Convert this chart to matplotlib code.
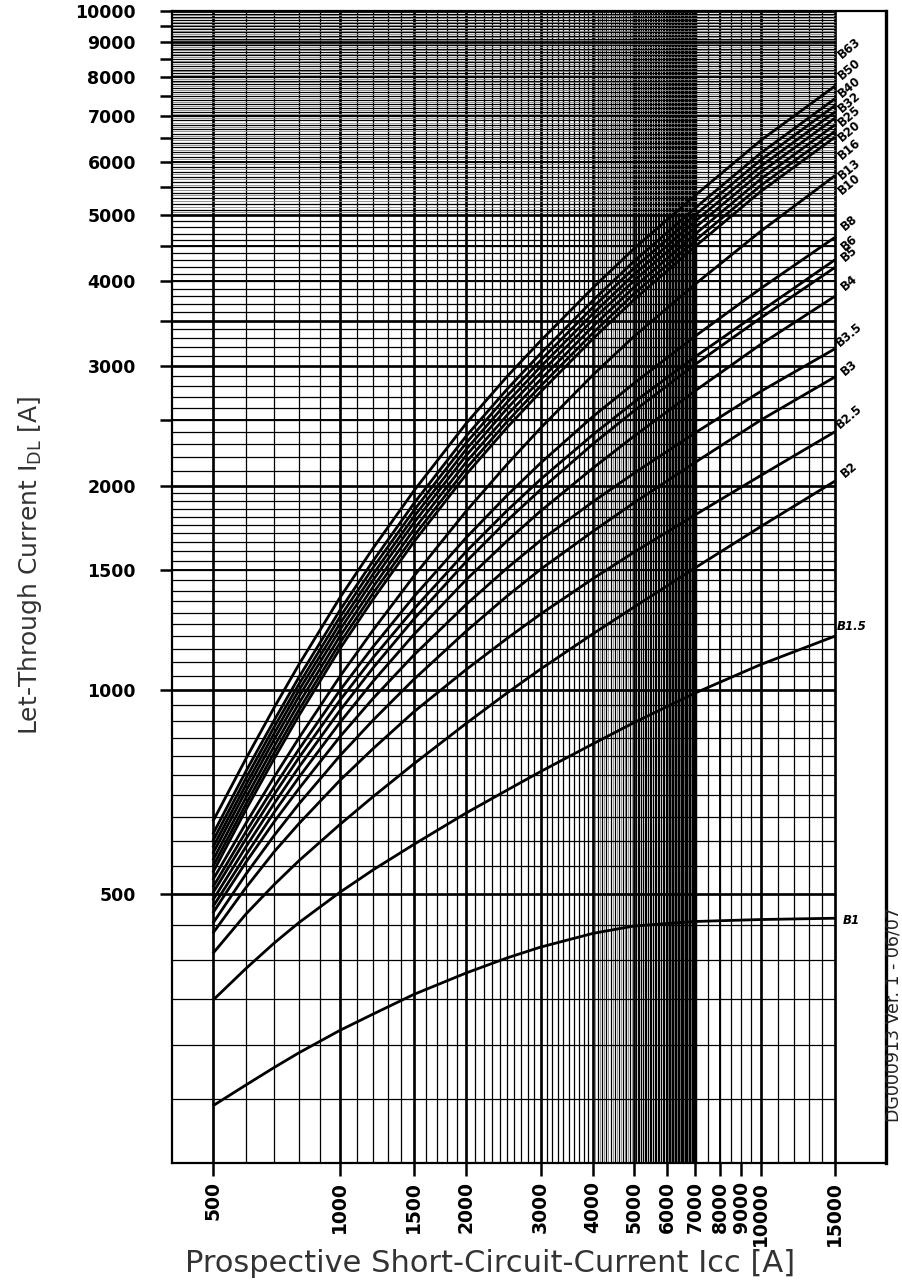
"""Let-through current vs prospective short-circuit current, B curves."""
import matplotlib
matplotlib.use("Agg")
import matplotlib.pyplot as plt
from matplotlib.ticker import FixedLocator, FixedFormatter, NullLocator

# prospective short-circuit current Icc [A] where values were read
ICC = [500, 600, 700, 800, 1000, 1200, 1500, 2000, 2500, 3000, 4000, 5000,
       7000, 10000, 15000]

# let-through current I_DL [A] per rating
B1 = [244, 262, 278, 292, 315, 333, 356, 383, 403, 418, 438, 449, 456, 459,
      461]
B1_5 = [349, 389, 424, 454, 503, 543, 592, 659, 712, 758, 833, 895, 990,
        1090, 1200]
B2 = [409, 468, 517, 560, 633, 696, 778, 893, 990, 1073, 1210, 1324, 1514,
      1740, 2030]
B2_5 = [438, 512, 578, 635, 735, 819, 928, 1072, 1191, 1293, 1459, 1595,
        1812, 2069, 2400]
B3 = [453, 536, 611, 679, 799, 902, 1036, 1221, 1375, 1505, 1713, 1886,
      2165, 2497, 2890]
B3_5 = [469, 558, 640, 715, 852, 971, 1125, 1337, 1512, 1660, 1894, 2085,
        2393, 2752, 3180]
B4 = [479, 572, 661, 743, 894, 1029, 1206, 1454, 1658, 1834, 2123, 2364,
      2760, 3228, 3800]
B5 = [490, 588, 681, 769, 931, 1077, 1271, 1546, 1776, 1972, 2304, 2576,
      3018, 3531, 4190]
B6 = [502, 604, 702, 794, 964, 1115, 1315, 1600, 1838, 2042, 2378, 2653,
      3097, 3612, 4300]
B8 = [512, 619, 721, 817, 997, 1157, 1371, 1677, 1935, 2158, 2529, 2828,
      3322, 3902, 4640]
B10 = [525, 637, 745, 849, 1045, 1224, 1470, 1835, 2150, 2430, 2912, 3316,
       3963, 4737, 5720]
B13 = [538, 667, 793, 916, 1148, 1359, 1651, 2078, 2436, 2747, 3292, 3756,
       4504, 5422, 6518]
B16 = [549, 680, 809, 934, 1171, 1387, 1684, 2120, 2485, 2802, 3358, 3832,
       4595, 5532, 6650]
B20 = [561, 695, 827, 955, 1197, 1417, 1722, 2167, 2540, 2864, 3433, 3917,
       4696, 5654, 6797]
B25 = [574, 711, 846, 977, 1224, 1450, 1761, 2216, 2598, 2930, 3511, 4006,
       4803, 5783, 6952]
B32 = [586, 726, 864, 998, 1250, 1480, 1798, 2263, 2653, 2992, 3585, 4091,
       4905, 5905, 7099]
B40 = [599, 742, 883, 1019, 1278, 1513, 1837, 2313, 2711, 3057, 3664, 4180,
       5012, 6034, 7254]
B50 = [613, 760, 903, 1043, 1308, 1548, 1881, 2367, 2774, 3129, 3750, 4278,
       5130, 6176, 7425]
B63 = [640, 793, 943, 1089, 1365, 1616, 1963, 2471, 2896, 3266, 3914, 4466,
       5355, 6447, 7750]

CURVE_NAMES = ["B1", "B1.5", "B2", "B2.5", "B3", "B3.5", "B4", "B5", "B6",
               "B8", "B10", "B13", "B16", "B20", "B25", "B32", "B40", "B50",
               "B63"]
CURVES = [B1, B1_5, B2, B2_5, B3, B3_5, B4, B5, B6, B8, B10, B13, B16, B20,
          B25, B32, B40, B50, B63]
# height of each curve name in the label strip on the right
LABEL_Y = [458, 1238, 2109, 2524, 2980, 3333, 3976, 4386, 4553, 4873, 5563,
           5853, 6265, 6660, 7005, 7345, 7730, 8215, 8820]

X_TICKS = [500, 1000, 1500, 2000, 3000, 4000, 5000, 6000, 7000, 8000, 9000,
           10000, 15000]
Y_TICKS = [500, 1000, 1500, 2000, 3000, 4000, 5000, 6000, 7000, 8000, 9000,
           10000]
Y_HALF_TICKS = [2500, 3500, 4500, 5500, 6500, 7500, 8500, 9500]

X_MIN, X_MAX = 400, 19840
Y_MIN, Y_MAX = 201, 10000
GRID_END = 15000


def _vgrid(ax, xs, lw, color="black"):
    ax.vlines(xs, Y_MIN, Y_MAX, colors=color, lw=lw, zorder=1)


def _hgrid(ax, ys, lw, color="black"):
    ax.hlines(ys, X_MIN, GRID_END, colors=color, lw=lw, zorder=1)


fig = plt.figure(figsize=(9.02, 12.8), dpi=100)
ax = fig.add_axes([172 / 902, 117 / 1280, 714 / 902, 1152 / 1280])
ax.set_xscale("log")
ax.set_yscale("log")

# vertical grid: hand-drawn log paper, densest between 5000 and 7000
thin_x = (list(range(500, 5000, 100)) + list(range(5000, 7000, 50))
          + list(range(7000, 10000, 500)) + list(range(10000, 15001, 1000)))
grey_x = list(range(4050, 5000, 100)) + list(range(6025, 7000, 50))
_vgrid(ax, grey_x, 0.6, "0.5")
_vgrid(ax, thin_x, 0.9)
_vgrid(ax, [500, 1000, 1500, 2000, 3000, 4000, 5000, 10000, 15000], 1.9)
_vgrid(ax, [6000, 8000], 1.4)
_vgrid(ax, [7000], 3.2)

# horizontal grid
thin_y = list(range(250, 2000, 50)) + list(range(2000, 10001, 100))
grey_y = list(range(5050, 10000, 100))
_hgrid(ax, grey_y, 0.6, "0.5")
_hgrid(ax, thin_y, 0.9)
_hgrid(ax, [500, 1000, 2000, 3000, 3500, 5000, 9000, 10000], 1.9)
_hgrid(ax, [1500, 2500, 4000, 4500, 6000, 7000, 8000], 1.4)

for vals in CURVES:
    ax.plot(ICC, vals, color="black", lw=2.0, solid_capstyle="butt",
            zorder=3)

label_tr = ax.get_yaxis_transform()
for name, y in zip(CURVE_NAMES, LABEL_Y):
    if name in ("B1", "B1.5"):
        ax.text(0.952, y, name, transform=label_tr, rotation=0,
                ha="center", va="center", fontsize=8.5, fontweight="bold",
                fontstyle="italic", color="black", zorder=4)
    else:
        ax.text(0.948, y, name, transform=label_tr, rotation=40,
                ha="center", va="center", fontsize=8.5, fontweight="bold",
                color="black", zorder=4)

ax.set_xlim(X_MIN, X_MAX)
ax.set_ylim(Y_MIN, Y_MAX)

# ticks
ax.xaxis.set_major_locator(FixedLocator(X_TICKS))
ax.xaxis.set_major_formatter(FixedFormatter([str(v) for v in X_TICKS]))
ax.xaxis.set_minor_locator(NullLocator())
ax.yaxis.set_major_locator(FixedLocator(Y_TICKS))
ax.yaxis.set_major_formatter(FixedFormatter([str(v) for v in Y_TICKS]))
ax.yaxis.set_minor_locator(FixedLocator(Y_HALF_TICKS))
ax.tick_params(axis="both", which="both", direction="out", length=9,
               width=1.8, color="black")
ax.tick_params(axis="y", which="major", pad=17)
ax.tick_params(axis="x", which="major", pad=4)
for lab in ax.get_xticklabels():
    lab.set(rotation=90, family="DejaVu Sans", weight="bold", size=13.5)
for lab in ax.get_yticklabels():
    lab.set(family="DejaVu Sans", weight="bold", size=12.5)

for side in ("left", "bottom", "top"):
    ax.spines[side].set_linewidth(1.6)
ax.spines["right"].set_linewidth(2.4)

fig.text(30 / 902, 1 - 565 / 1280,
         r"Let-Through Current I$_\mathregular{DL}$ [A]",
         rotation=90, ha="center", va="center", fontsize=18, color="#333333")
fig.text(490 / 902, 1 - 1264 / 1280,
         "Prospective Short-Circuit-Current Icc [A]",
         ha="center", va="center", fontsize=22, color="#333333")
fig.text(893 / 902, 1 - 1015 / 1280, "DG000913 Ver. 1 - 06/07",
         rotation=90, ha="center", va="center", fontsize=12.5,
         color="#222222")

fig.savefig("out.png", dpi=100)
